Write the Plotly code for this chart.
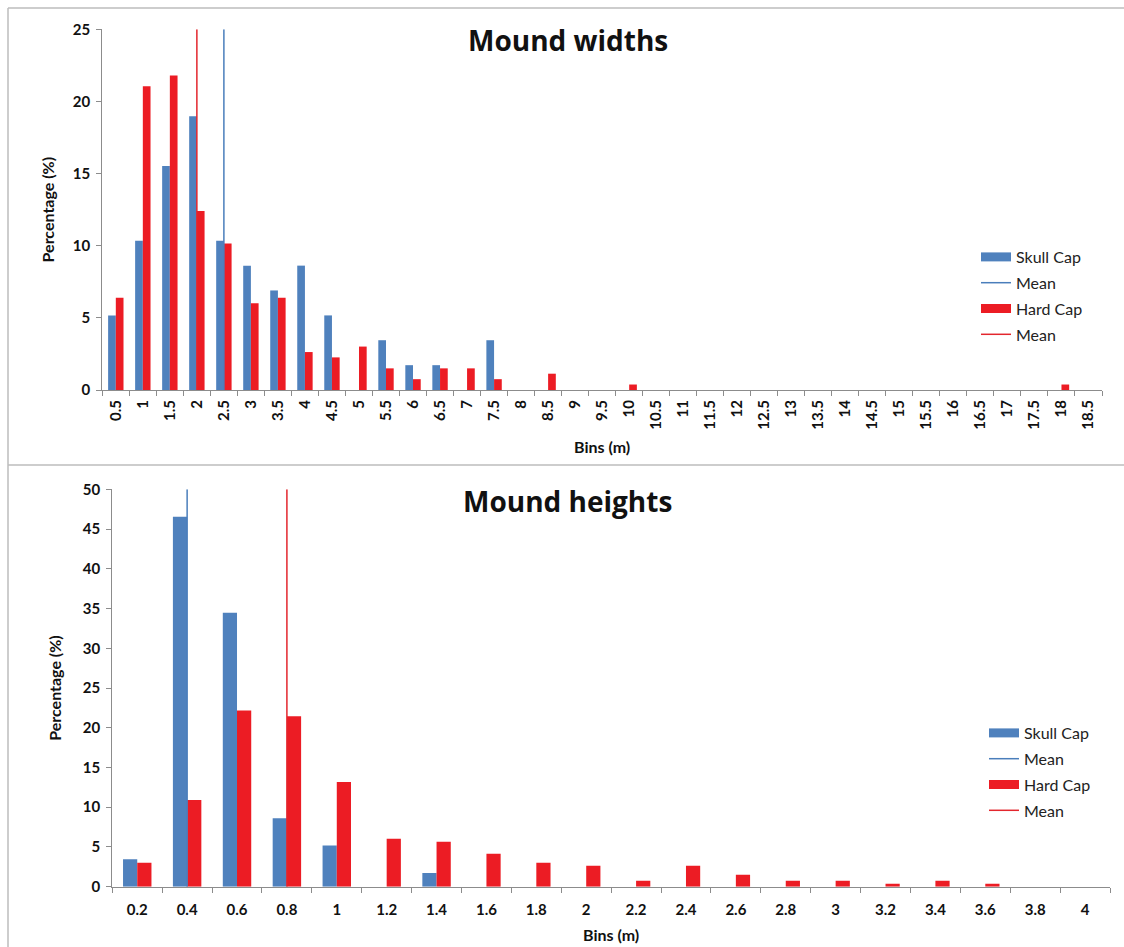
import plotly.graph_objects as go

# ---- Mound widths (bins in metres, percentage of mounds per bin) ----
width_bins = ["0.5", "1", "1.5", "2", "2.5", "3", "3.5", "4", "4.5", "5",
              "5.5", "6", "6.5", "7", "7.5", "8", "8.5", "9", "9.5", "10",
              "10.5", "11", "11.5", "12", "12.5", "13", "13.5", "14", "14.5", "15",
              "15.5", "16", "16.5", "17", "17.5", "18", "18.5"]
skull_width_pct = [5.17, 10.34, 15.52, 18.97, 10.34, 8.62, 6.90, 8.62, 5.17, 0,
                   3.45, 1.72, 1.72, 0, 3.45, 0, 0, 0, 0, 0,
                   0, 0, 0, 0, 0, 0, 0, 0, 0, 0,
                   0, 0, 0, 0, 0, 0, 0]
hard_width_pct = [6.39, 21.05, 21.80, 12.41, 10.15, 6.02, 6.39, 2.63, 2.26, 3.01,
                  1.50, 0.75, 1.50, 1.50, 0.75, 0, 1.13, 0, 0, 0.38,
                  0, 0, 0, 0, 0, 0, 0, 0, 0, 0,
                  0, 0, 0, 0, 0, 0.38, 0]
skull_width_mean_bin = "2.5"
hard_width_mean_bin = "2"
width_ymax = 25

# ---- Mound heights ----
height_bins = ["0.2", "0.4", "0.6", "0.8", "1", "1.2", "1.4", "1.6", "1.8", "2",
               "2.2", "2.4", "2.6", "2.8", "3", "3.2", "3.4", "3.6", "3.8", "4"]
skull_height_pct = [3.45, 46.55, 34.48, 8.62, 5.17, 0, 1.72, 0, 0, 0,
                    0, 0, 0, 0, 0, 0, 0, 0, 0, 0]
hard_height_pct = [3.01, 10.90, 22.18, 21.43, 13.16, 6.02, 5.64, 4.14, 3.01, 2.63,
                   0.75, 2.63, 1.50, 0.75, 0.75, 0.38, 0.75, 0.38, 0, 0]
skull_height_mean_bin = "0.4"
hard_height_mean_bin = "0.8"
height_ymax = 50

BLUE = "#4F81BD"
RED = "#EC1C24"
BLUE_LINE = "#4A7EBB"
RED_LINE = "#E3262D"
AXIS = "#8C8C8C"
TEXT = "#111111"
FONT = "Lato"
TITLE_FONT = "Open Sans"
W, H = 1124, 947

fig = go.Figure()


def add_panel(bins, skull, hard, skull_mean, hard_mean, ymax, xa, ya, legend, tag):
    # legend entries (thick line samples for the bar series)
    fig.add_trace(go.Scatter(x=[None], y=[None], mode="lines", name="Skull Cap",
                             line=dict(color=BLUE, width=9), xaxis=xa, yaxis=ya,
                             legend=legend, legendgroup=tag + "a", hoverinfo="skip"))
    fig.add_trace(go.Scatter(x=[skull_mean, skull_mean], y=[0, ymax], mode="lines",
                             name="Mean", line=dict(color=BLUE_LINE, width=1.5),
                             xaxis=xa, yaxis=ya, legend=legend, legendgroup=tag + "b"))
    fig.add_trace(go.Scatter(x=[None], y=[None], mode="lines", name="Hard Cap",
                             line=dict(color=RED, width=9), xaxis=xa, yaxis=ya,
                             legend=legend, legendgroup=tag + "c", hoverinfo="skip"))
    fig.add_trace(go.Scatter(x=[hard_mean, hard_mean], y=[0, ymax], mode="lines",
                             name="Mean", line=dict(color=RED_LINE, width=1.5),
                             xaxis=xa, yaxis=ya, legend=legend, legendgroup=tag + "d"))
    fig.add_trace(go.Bar(x=bins, y=skull, name="Skull Cap", marker_color=BLUE,
                         marker_line_width=0, showlegend=False, xaxis=xa, yaxis=ya))
    fig.add_trace(go.Bar(x=bins, y=hard, name="Hard Cap", marker_color=RED,
                         marker_line_width=0, showlegend=False, xaxis=xa, yaxis=ya))


add_panel(width_bins, skull_width_pct, hard_width_pct,
          skull_width_mean_bin, hard_width_mean_bin, width_ymax, "x", "y", "legend", "w")
add_panel(height_bins, skull_height_pct, hard_height_pct,
          skull_height_mean_bin, hard_height_mean_bin, height_ymax, "x2", "y2", "legend2", "h")

tickfont = dict(family=FONT, size=15, color=TEXT, weight="bold")
titlefont = dict(family=FONT, size=16, color=TEXT, weight="bold")


def xaxis_style(domain, anchor, bins, angle, label_gap, standoff):
    return dict(domain=domain, anchor=anchor, type="category",
                categoryorder="array", categoryarray=bins,
                range=[-0.5, len(bins) - 0.5], automargin=False,
                showline=True, linecolor=AXIS, linewidth=1.2, ticks="outside",
                tickson="boundaries", ticklen=5, tickcolor=AXIS, tickwidth=1.2,
                tickangle=angle, tickfont=tickfont, ticklabelstandoff=label_gap,
                showgrid=False,
                title=dict(text="Bins (m)", font=titlefont, standoff=standoff))


def yaxis_style(domain, anchor, ymax, standoff):
    return dict(domain=domain, anchor=anchor, range=[0, ymax], dtick=5,
                automargin=False,
                showline=True, linecolor=AXIS, linewidth=1.2, ticks="outside",
                ticklen=5, tickcolor=AXIS, tickwidth=1.2, tickfont=tickfont,
                ticklabelstandoff=3, showgrid=False, zeroline=False,
                title=dict(text="Percentage (%)", font=titlefont, standoff=standoff))


legend_common = dict(xanchor="left", yanchor="top", bgcolor="rgba(0,0,0,0)",
                     font=dict(family=FONT, size=16, color="#222222"),
                     traceorder="grouped", tracegroupgap=2,
                     itemclick=False, itemdoubleclick=False)

fig.update_layout(
    width=W, height=H,
    margin=dict(l=0, r=0, t=0, b=0, autoexpand=False),
    paper_bgcolor="white", plot_bgcolor="white",
    barmode="group", bargap=0.43, bargroupgap=0,
    showlegend=True,
    xaxis=xaxis_style([102.3 / W, 1102 / W], "y", width_bins, -90, 3, 13),
    yaxis=yaxis_style([1 - 390 / H, 1 - 29.3 / H], "x", width_ymax, 14),
    xaxis2=xaxis_style([112.3 / W, 1110 / W], "y2", height_bins, 0, 9, 13),
    yaxis2=yaxis_style([1 - 886.7 / H, 1 - 489.3 / H], "x2", height_ymax, 17),
    legend=dict(x=976 / W, y=1 - 240 / H, **legend_common),
    legend2=dict(x=984 / W, y=1 - 716 / H, **legend_common),
    annotations=[
        dict(text="Mound widths", x=568 / W, y=1 - 40 / H, xref="paper", yref="paper",
             showarrow=False, xanchor="center", yanchor="middle",
             font=dict(family=TITLE_FONT, size=28, color=TEXT, weight="bold")),
        dict(text="Mound heights", x=567 / W, y=1 - 501 / H, xref="paper", yref="paper",
             showarrow=False, xanchor="center", yanchor="middle",
             font=dict(family=TITLE_FONT, size=28, color=TEXT, weight="bold")),
    ],
    shapes=[
        # outer frame and divider between the two panels
        dict(type="line", xref="paper", yref="paper", x0=8 / W, x1=1, y0=1 - 8 / H, y1=1 - 8 / H,
             line=dict(color="#BDBDBD", width=1.5)),
        dict(type="line", xref="paper", yref="paper", x0=8 / W, x1=8 / W, y0=0, y1=1 - 8 / H,
             line=dict(color="#BDBDBD", width=1.5)),
        dict(type="line", xref="paper", yref="paper", x0=8 / W, x1=1, y0=1 - 465 / H, y1=1 - 465 / H,
             line=dict(color="#BDBDBD", width=1.5)),
    ],
)

fig.write_html("out.html")
